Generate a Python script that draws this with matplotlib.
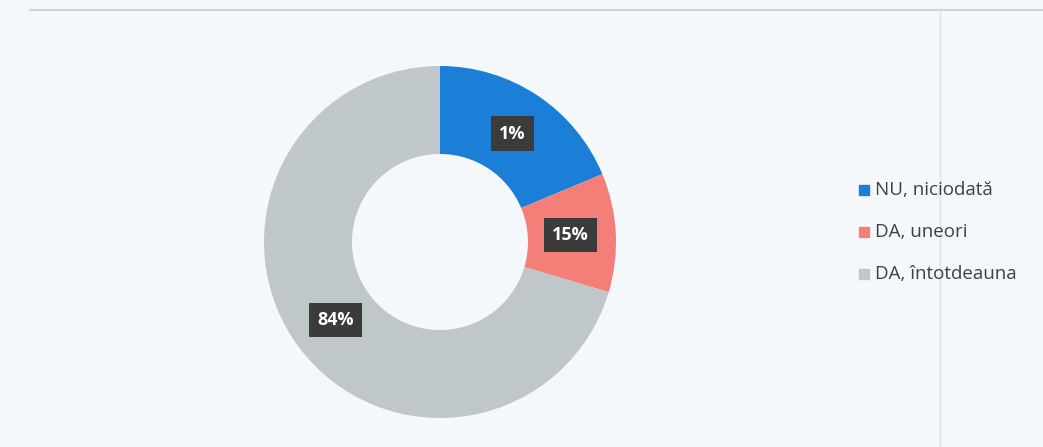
import numpy as np
import matplotlib.pyplot as plt
from matplotlib.patches import Rectangle

# categories and values
categories = ['NU, niciodată', 'DA, uneori', 'DA, întotdeauna']
wedge_share = [18.7, 10.9, 70.4]          # drawn wedge sizes (%)
label_text = ['1%', '15%', '84%']         # printed data labels
colors = ['#1b7fd8', '#f37f78', '#c0c7cb']

W, H = 1043, 447
fig = plt.figure(figsize=(W / 100, H / 100), dpi=100)
fig.patch.set_facecolor('#f4f8fa')
ax = fig.add_axes([0, 0, 1, 1])

# faint scan frame
ax.plot([30, W], [H - 10, H - 10], color='#cfd3d6', lw=1.5)
ax.plot([940, 940], [0, H - 10], color='#dde2e5', lw=1)

cx, cy, r = 440, H - 242, 176
wedges, _ = ax.pie(wedge_share, colors=colors, startangle=90, counterclock=False,
                   center=(cx, cy), radius=r, frame=True,
                   wedgeprops=dict(width=r * 0.5, edgecolor='none'))
ax.set_xlim(0, W)
ax.set_ylim(0, H)
ax.set_aspect('equal')
ax.axis('off')

# label boxes placed near the outer part of the ring
for w, txt in zip(wedges, label_text):
    ang = np.deg2rad((w.theta1 + w.theta2) / 2)
    rr = r * 0.74
    x = cx + rr * np.cos(ang)
    y = cy + rr * np.sin(ang)
    ax.text(x, y, txt, ha='center', va='center', color='white', fontsize=13,
            fontweight='bold', family='Open Sans',
            bbox=dict(boxstyle='square,pad=0.45', fc='#3b3b3b', ec='none'))

# legend
for i, (cat, col) in enumerate(zip(categories, colors)):
    ly = H - (190 + i * 42)
    ax.add_patch(Rectangle((859, ly - 5), 10, 10, color=col))
    ax.text(875, ly, cat, ha='left', va='center', fontsize=13.5,
            family='Open Sans', color='#404040')

fig.savefig('out.png', dpi=100, facecolor=fig.get_facecolor())
